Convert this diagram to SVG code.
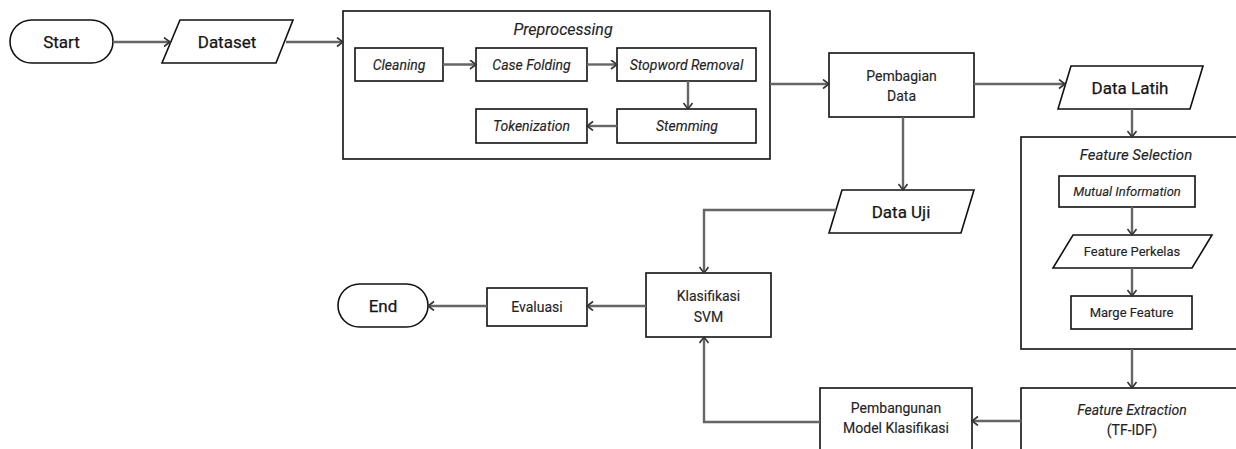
<svg xmlns="http://www.w3.org/2000/svg" width="1236" height="449" viewBox="0 0 1236 449">
<defs>
<style>
.box{fill:#fff;stroke:#111;stroke-width:1.6}
.t{font-family:Roboto,"Liberation Sans",sans-serif;fill:#222;text-anchor:middle;dominant-baseline:central;stroke:#333;stroke-width:0.15px}
.b{font-size:17px;stroke:#222;stroke-width:0.25px;fill:#111}
.n{font-size:14px}
.s{font-size:13px}
.i{font-style:italic}
.c{fill:none;stroke:#666;stroke-width:2.4;marker-end:url(#ah)}
</style>
<marker id="ah" markerUnits="userSpaceOnUse" markerWidth="12" markerHeight="12" refX="7" refY="5" orient="auto">
<path d="M1,0.5 L7,5 L1,9.5" fill="none" stroke="#333" stroke-width="1.6"/>
</marker>
</defs>
<rect width="1236" height="449" fill="#fff"/>

<g id="start">
<rect class="box" x="10" y="20" width="103" height="43" rx="21.5"/>
<text class="t b" x="61.5" y="42">Start</text>
</g>
<g id="dataset">
<polygon class="box" points="180,20 293,20 276,63 162,63"/>
<text class="t b" x="227" y="42">Dataset</text>
</g>
<g id="preprocessing">
<rect class="box" x="343" y="11" width="427" height="148"/>
<text class="t i" style="font-size:16px" x="563" y="29">Preprocessing</text>
</g>
<g id="cleaning">
<rect class="box" x="355" y="48" width="88" height="33"/>
<text class="t n i" x="399" y="64.5">Cleaning</text>
</g>
<g id="casefolding">
<rect class="box" x="476" y="48" width="111" height="33"/>
<text class="t n i" x="531.5" y="64.5">Case Folding</text>
</g>
<g id="stopword">
<rect class="box" x="617" y="48" width="139" height="33"/>
<text class="t n i" x="686.5" y="64.5">Stopword Removal</text>
</g>
<g id="stemming">
<rect class="box" x="617" y="109" width="139" height="34"/>
<text class="t n i" x="687" y="126">Stemming</text>
</g>
<g id="tokenization">
<rect class="box" x="476" y="109" width="111" height="34"/>
<text class="t n i" x="531.5" y="126">Tokenization</text>
</g>
<g id="pembagian">
<rect class="box" x="829" y="53" width="145" height="64"/>
<text class="t n" x="901.5" y="76">Pembagian</text>
<text class="t n" x="901.5" y="96">Data</text>
</g>
<g id="datalatih">
<polygon class="box" points="1071,66 1203,66 1190,109 1058,109"/>
<text class="t b" x="1130" y="88">Data Latih</text>
</g>
<g id="featureselection">
<rect class="box" x="1021" y="137" width="232" height="212"/>
<text class="t i" style="font-size:15px" x="1136" y="155">Feature Selection</text>
</g>
<g id="mutualinfo">
<rect class="box" x="1059" y="176" width="136" height="31"/>
<text class="t s i" x="1127" y="191.5">Mutual Information</text>
</g>
<g id="featureperkelas">
<polygon class="box" points="1073,235 1212,235 1192,268 1053,268"/>
<text class="t s" x="1132" y="251.5">Feature Perkelas</text>
</g>
<g id="margefeature">
<rect class="box" x="1071" y="296" width="121" height="33"/>
<text class="t s" x="1131.5" y="312.5">Marge Feature</text>
</g>
<g id="featureextraction">
<rect class="box" x="1021" y="388" width="232" height="80"/>
<text class="t n i" x="1132" y="410">Feature Extraction</text>
<text class="t n" x="1132" y="430">(TF-IDF)</text>
</g>
<g id="datauji">
<polygon class="box" points="842,190 974,190 961,233 829,233"/>
<text class="t b" x="901" y="211.5">Data Uji</text>
</g>
<g id="klasifikasi">
<rect class="box" x="646" y="273" width="125" height="64"/>
<text class="t n" x="708.5" y="295.5">Klasifikasi</text>
<text class="t n" x="708.5" y="316.5">SVM</text>
</g>
<g id="evaluasi">
<rect class="box" x="487" y="288" width="100" height="38"/>
<text class="t n" x="537" y="307">Evaluasi</text>
</g>
<g id="end">
<rect class="box" x="338" y="284" width="90" height="43" rx="21.5"/>
<text class="t b" x="383" y="305.5">End</text>
</g>
<g id="pembangunan">
<rect class="box" x="820" y="388" width="152" height="80"/>
<text class="t n" x="896" y="408">Pembangunan</text>
<text class="t n" x="896" y="428">Model Klasifikasi</text>
</g>

<g id="connectors">
<line class="c" x1="113" y1="42" x2="170" y2="42"/>
<line class="c" x1="286" y1="42" x2="343" y2="42"/>
<line class="c" x1="443" y1="64.5" x2="476" y2="64.5"/>
<line class="c" x1="587" y1="64.5" x2="617" y2="64.5"/>
<line class="c" x1="688" y1="81" x2="688" y2="109"/>
<line class="c" x1="617" y1="126" x2="587" y2="126"/>
<line class="c" x1="770" y1="84" x2="829" y2="84"/>
<line class="c" x1="974" y1="84" x2="1065" y2="84"/>
<line class="c" x1="1132" y1="109" x2="1132" y2="137"/>
<line class="c" x1="1132" y1="207" x2="1132" y2="235"/>
<line class="c" x1="1132" y1="268" x2="1132" y2="296"/>
<line class="c" x1="1132" y1="349" x2="1132" y2="388"/>
<line class="c" x1="903" y1="117" x2="903" y2="190"/>
<polyline class="c" points="836,210 704,210 704,273"/>
<line class="c" x1="646" y1="306" x2="587" y2="306"/>
<line class="c" x1="487" y1="306" x2="428" y2="306"/>
<line class="c" x1="1021" y1="421" x2="972" y2="421"/>
<polyline class="c" points="820,422 704,422 704,337"/>
</g>
</svg>
